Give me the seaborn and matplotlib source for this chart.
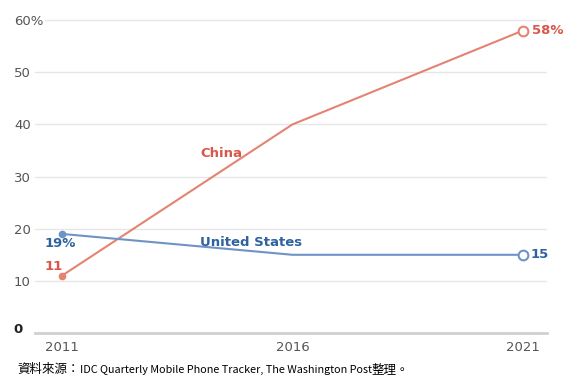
import matplotlib.pyplot as plt
import pandas as pd
import seaborn as sns

# Smartphone share data
years = [2011, 2016, 2021]
china = [11, 40, 58]
usa = [19, 15, 15]
yticks = [0, 10, 20, 30, 40, 50, 60]
ytick_labels = ['0', '10', '20', '30', '40', '50', '60%']

df = pd.DataFrame({
    'Year': years * 2,
    'Share': china + usa,
    'Country': ['China'] * 3 + ['United States'] * 3,
})

red_line = '#e58373'
red_text = '#d9574a'
blue_line = '#7093c6'
blue_text = '#2f62a0'

sns.set_style("white")
plt.rcParams['font.family'] = ['DejaVu Sans']

fig = plt.figure(figsize=(5.8, 3.87), dpi=100)
ax = fig.add_axes([0.06, 0.1395, 0.883, 0.822])

sns.lineplot(data=df, x='Year', y='Share', hue='Country',
             palette={'China': red_line, 'United States': blue_line},
             linewidth=1.5, legend=False, ax=ax)

# filled dots at start, hollow circles at end
first = df[df['Year'] == years[0]]
last = df[df['Year'] == years[-1]]
for _, r in first.iterrows():
    c = red_line if r['Country'] == 'China' else blue_line
    ax.plot(r['Year'], r['Share'], 'o', color=c, markersize=4.5, zorder=5)
for _, r in last.iterrows():
    c = red_line if r['Country'] == 'China' else blue_line
    ax.plot(r['Year'], r['Share'], 'o', markerfacecolor='white', markeredgecolor=c,
            markeredgewidth=1.5, markersize=7, zorder=5)

ax.set_xlim(2010.41, 2021.52)
ax.set_ylim(0, 61)
ax.set_yticks(yticks[1:])
ax.set_yticklabels(ytick_labels[1:], color='#555555', fontsize=9.5)
for lbl in ax.get_yticklabels():
    lbl.set_horizontalalignment('left')
ax.get_yticklabels()[-1].set_bbox(dict(facecolor='white', edgecolor='none', pad=1.5))
ax.tick_params(axis='y', length=0, pad=15)
ax.yaxis.grid(True, color='#e6e6e6', linewidth=1)
ax.set_xticks(years)
ax.set_xticklabels([str(y) for y in years], color='#555555', fontsize=9.5)
ax.tick_params(axis='x', length=3, width=0.8, color='#aaaaaa', pad=3)
ax.set_xlabel('')
ax.set_ylabel('')
for s in ['top', 'right', 'left']:
    ax.spines[s].set_visible(False)
ax.spines['bottom'].set_color('#d0d0d0')
ax.spines['bottom'].set_linewidth(2)

# zero label, bold black
ax.text(-0.033, 0.6, ytick_labels[0], transform=ax.get_yaxis_transform(), ha='center', va='center',
        fontsize=9.5, fontweight='bold', color='#222222')

# data labels
ax.text(2010.63, 17.1, '19%', color=blue_text, fontsize=9.5, fontweight='bold', va='center')
ax.text(2010.63, 12.8, '11', color=red_text, fontsize=9.5, fontweight='bold', va='center')
ax.text(2021.2, 58, '58%', color=red_text, fontsize=9.5, fontweight='bold', va='center')
ax.text(2021.17, 15, '15', color=blue_text, fontsize=9.5, fontweight='bold', va='center')
ax.text(2014.0, 34.5, 'China', color=red_text, fontsize=9.5, fontweight='bold', va='center')
ax.text(2014.0, 17.4, 'United States', color=blue_text, fontsize=9.5, fontweight='bold', va='center')

# source line, three pieces placed one after another
cjk = ['Noto Sans CJK TC', 'DejaVu Sans']
y_src = 1 - 370 / 387
pieces = [('資料來源：', 9),
          ('IDC Quarterly Mobile Phone Tracker, The Washington Post', 7.8),
          ('整理。', 9)]
renderer = fig.canvas.get_renderer()
x = 17
for txt, fs in pieces:
    t = fig.text(x / 580, y_src, txt, fontsize=fs, color='black', va='center', family=cjk)
    x = t.get_window_extent(renderer).x1

plt.savefig('out.png', dpi=100)
